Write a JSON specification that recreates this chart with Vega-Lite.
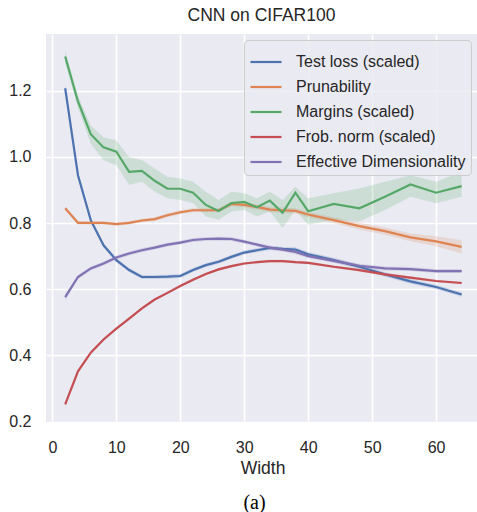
{
  "$schema": "https://vega.github.io/schema/vega-lite/v6.json",
  "width": 431,
  "height": 389,
  "autosize": {"type": "none"},
  "padding": {"left": 46, "top": 34, "right": 0, "bottom": 89},
  "background": "white",
  "title": {"text": "CNN on CIFAR100", "font": "Liberation Sans", "fontSize": 17.5, "fontWeight": "normal", "color": "#262626", "offset": 10},
  "data": {"values": [
    {"w":2,"s":"Test loss (scaled)","v":1.208,"lo":1.198,"hi":1.218},
    {"w":4,"s":"Test loss (scaled)","v":0.945,"lo":0.937,"hi":0.953},
    {"w":6,"s":"Test loss (scaled)","v":0.809,"lo":0.802,"hi":0.816},
    {"w":8,"s":"Test loss (scaled)","v":0.733,"lo":0.727,"hi":0.739},
    {"w":10,"s":"Test loss (scaled)","v":0.688,"lo":0.682,"hi":0.694},
    {"w":12,"s":"Test loss (scaled)","v":0.658,"lo":0.652,"hi":0.664},
    {"w":14,"s":"Test loss (scaled)","v":0.637,"lo":0.631,"hi":0.643},
    {"w":16,"s":"Test loss (scaled)","v":0.637,"lo":0.631,"hi":0.643},
    {"w":18,"s":"Test loss (scaled)","v":0.638,"lo":0.632,"hi":0.644},
    {"w":20,"s":"Test loss (scaled)","v":0.640,"lo":0.634,"hi":0.646},
    {"w":22,"s":"Test loss (scaled)","v":0.658,"lo":0.652,"hi":0.664},
    {"w":24,"s":"Test loss (scaled)","v":0.673,"lo":0.667,"hi":0.679},
    {"w":26,"s":"Test loss (scaled)","v":0.683,"lo":0.677,"hi":0.689},
    {"w":28,"s":"Test loss (scaled)","v":0.698,"lo":0.692,"hi":0.704},
    {"w":30,"s":"Test loss (scaled)","v":0.711,"lo":0.705,"hi":0.717},
    {"w":32,"s":"Test loss (scaled)","v":0.718,"lo":0.712,"hi":0.724},
    {"w":34,"s":"Test loss (scaled)","v":0.725,"lo":0.719,"hi":0.731},
    {"w":36,"s":"Test loss (scaled)","v":0.722,"lo":0.716,"hi":0.728},
    {"w":38,"s":"Test loss (scaled)","v":0.720,"lo":0.713,"hi":0.727},
    {"w":40,"s":"Test loss (scaled)","v":0.706,"lo":0.699,"hi":0.713},
    {"w":44,"s":"Test loss (scaled)","v":0.688,"lo":0.681,"hi":0.695},
    {"w":48,"s":"Test loss (scaled)","v":0.668,"lo":0.661,"hi":0.675},
    {"w":52,"s":"Test loss (scaled)","v":0.645,"lo":0.638,"hi":0.652},
    {"w":56,"s":"Test loss (scaled)","v":0.624,"lo":0.617,"hi":0.631},
    {"w":60,"s":"Test loss (scaled)","v":0.607,"lo":0.600,"hi":0.614},
    {"w":64,"s":"Test loss (scaled)","v":0.584,"lo":0.577,"hi":0.591},

    {"w":2,"s":"Prunability","v":0.845,"lo":0.839,"hi":0.851},
    {"w":4,"s":"Prunability","v":0.801,"lo":0.796,"hi":0.806},
    {"w":6,"s":"Prunability","v":0.801,"lo":0.796,"hi":0.806},
    {"w":8,"s":"Prunability","v":0.801,"lo":0.796,"hi":0.806},
    {"w":10,"s":"Prunability","v":0.797,"lo":0.792,"hi":0.802},
    {"w":12,"s":"Prunability","v":0.801,"lo":0.796,"hi":0.806},
    {"w":14,"s":"Prunability","v":0.808,"lo":0.803,"hi":0.813},
    {"w":16,"s":"Prunability","v":0.812,"lo":0.806,"hi":0.818},
    {"w":18,"s":"Prunability","v":0.824,"lo":0.818,"hi":0.830},
    {"w":20,"s":"Prunability","v":0.833,"lo":0.827,"hi":0.839},
    {"w":22,"s":"Prunability","v":0.839,"lo":0.833,"hi":0.845},
    {"w":24,"s":"Prunability","v":0.839,"lo":0.833,"hi":0.845},
    {"w":26,"s":"Prunability","v":0.839,"lo":0.833,"hi":0.845},
    {"w":28,"s":"Prunability","v":0.858,"lo":0.851,"hi":0.865},
    {"w":30,"s":"Prunability","v":0.855,"lo":0.848,"hi":0.862},
    {"w":32,"s":"Prunability","v":0.849,"lo":0.841,"hi":0.857},
    {"w":34,"s":"Prunability","v":0.841,"lo":0.833,"hi":0.849},
    {"w":36,"s":"Prunability","v":0.839,"lo":0.831,"hi":0.847},
    {"w":38,"s":"Prunability","v":0.837,"lo":0.829,"hi":0.845},
    {"w":40,"s":"Prunability","v":0.826,"lo":0.818,"hi":0.834},
    {"w":44,"s":"Prunability","v":0.809,"lo":0.800,"hi":0.818},
    {"w":48,"s":"Prunability","v":0.791,"lo":0.781,"hi":0.801},
    {"w":52,"s":"Prunability","v":0.776,"lo":0.765,"hi":0.787},
    {"w":56,"s":"Prunability","v":0.757,"lo":0.745,"hi":0.769},
    {"w":60,"s":"Prunability","v":0.745,"lo":0.730,"hi":0.760},
    {"w":64,"s":"Prunability","v":0.728,"lo":0.708,"hi":0.748},

    {"w":2,"s":"Margins (scaled)","v":1.304,"lo":1.285,"hi":1.322},
    {"w":4,"s":"Margins (scaled)","v":1.168,"lo":1.150,"hi":1.185},
    {"w":6,"s":"Margins (scaled)","v":1.069,"lo":1.040,"hi":1.095},
    {"w":8,"s":"Margins (scaled)","v":1.029,"lo":0.990,"hi":1.060},
    {"w":10,"s":"Margins (scaled)","v":1.016,"lo":0.975,"hi":1.050},
    {"w":12,"s":"Margins (scaled)","v":0.955,"lo":0.915,"hi":1.000},
    {"w":14,"s":"Margins (scaled)","v":0.958,"lo":0.925,"hi":0.990},
    {"w":16,"s":"Margins (scaled)","v":0.928,"lo":0.895,"hi":0.965},
    {"w":18,"s":"Margins (scaled)","v":0.904,"lo":0.875,"hi":0.940},
    {"w":20,"s":"Margins (scaled)","v":0.904,"lo":0.870,"hi":0.935},
    {"w":22,"s":"Margins (scaled)","v":0.892,"lo":0.860,"hi":0.925},
    {"w":24,"s":"Margins (scaled)","v":0.855,"lo":0.820,"hi":0.895},
    {"w":26,"s":"Margins (scaled)","v":0.837,"lo":0.810,"hi":0.870},
    {"w":28,"s":"Margins (scaled)","v":0.861,"lo":0.835,"hi":0.895},
    {"w":30,"s":"Margins (scaled)","v":0.864,"lo":0.840,"hi":0.890},
    {"w":32,"s":"Margins (scaled)","v":0.848,"lo":0.820,"hi":0.875},
    {"w":34,"s":"Margins (scaled)","v":0.868,"lo":0.835,"hi":0.895},
    {"w":36,"s":"Margins (scaled)","v":0.831,"lo":0.785,"hi":0.870},
    {"w":38,"s":"Margins (scaled)","v":0.892,"lo":0.840,"hi":0.910},
    {"w":40,"s":"Margins (scaled)","v":0.836,"lo":0.795,"hi":0.875},
    {"w":44,"s":"Margins (scaled)","v":0.858,"lo":0.810,"hi":0.890},
    {"w":48,"s":"Margins (scaled)","v":0.845,"lo":0.805,"hi":0.905},
    {"w":52,"s":"Margins (scaled)","v":0.880,"lo":0.840,"hi":0.925},
    {"w":56,"s":"Margins (scaled)","v":0.917,"lo":0.880,"hi":0.945},
    {"w":60,"s":"Margins (scaled)","v":0.892,"lo":0.860,"hi":0.925},
    {"w":64,"s":"Margins (scaled)","v":0.912,"lo":0.880,"hi":0.955},

    {"w":2,"s":"Frob. norm (scaled)","v":0.252,"lo":0.247,"hi":0.257},
    {"w":4,"s":"Frob. norm (scaled)","v":0.352,"lo":0.348,"hi":0.356},
    {"w":6,"s":"Frob. norm (scaled)","v":0.408,"lo":0.404,"hi":0.412},
    {"w":8,"s":"Frob. norm (scaled)","v":0.448,"lo":0.444,"hi":0.452},
    {"w":10,"s":"Frob. norm (scaled)","v":0.481,"lo":0.477,"hi":0.485},
    {"w":12,"s":"Frob. norm (scaled)","v":0.511,"lo":0.507,"hi":0.515},
    {"w":14,"s":"Frob. norm (scaled)","v":0.542,"lo":0.538,"hi":0.546},
    {"w":16,"s":"Frob. norm (scaled)","v":0.569,"lo":0.565,"hi":0.573},
    {"w":18,"s":"Frob. norm (scaled)","v":0.589,"lo":0.585,"hi":0.593},
    {"w":20,"s":"Frob. norm (scaled)","v":0.610,"lo":0.606,"hi":0.614},
    {"w":22,"s":"Frob. norm (scaled)","v":0.629,"lo":0.625,"hi":0.633},
    {"w":24,"s":"Frob. norm (scaled)","v":0.646,"lo":0.642,"hi":0.650},
    {"w":26,"s":"Frob. norm (scaled)","v":0.660,"lo":0.656,"hi":0.664},
    {"w":28,"s":"Frob. norm (scaled)","v":0.670,"lo":0.666,"hi":0.674},
    {"w":30,"s":"Frob. norm (scaled)","v":0.678,"lo":0.674,"hi":0.682},
    {"w":32,"s":"Frob. norm (scaled)","v":0.682,"lo":0.678,"hi":0.686},
    {"w":34,"s":"Frob. norm (scaled)","v":0.685,"lo":0.681,"hi":0.689},
    {"w":36,"s":"Frob. norm (scaled)","v":0.685,"lo":0.681,"hi":0.689},
    {"w":38,"s":"Frob. norm (scaled)","v":0.682,"lo":0.678,"hi":0.686},
    {"w":40,"s":"Frob. norm (scaled)","v":0.680,"lo":0.676,"hi":0.684},
    {"w":44,"s":"Frob. norm (scaled)","v":0.668,"lo":0.664,"hi":0.672},
    {"w":48,"s":"Frob. norm (scaled)","v":0.658,"lo":0.654,"hi":0.662},
    {"w":52,"s":"Frob. norm (scaled)","v":0.645,"lo":0.641,"hi":0.649},
    {"w":56,"s":"Frob. norm (scaled)","v":0.635,"lo":0.631,"hi":0.639},
    {"w":60,"s":"Frob. norm (scaled)","v":0.625,"lo":0.621,"hi":0.629},
    {"w":64,"s":"Frob. norm (scaled)","v":0.619,"lo":0.615,"hi":0.623},

    {"w":2,"s":"Effective Dimensionality","v":0.576,"lo":0.566,"hi":0.586},
    {"w":4,"s":"Effective Dimensionality","v":0.637,"lo":0.631,"hi":0.643},
    {"w":6,"s":"Effective Dimensionality","v":0.663,"lo":0.657,"hi":0.669},
    {"w":8,"s":"Effective Dimensionality","v":0.678,"lo":0.672,"hi":0.684},
    {"w":10,"s":"Effective Dimensionality","v":0.696,"lo":0.690,"hi":0.702},
    {"w":12,"s":"Effective Dimensionality","v":0.708,"lo":0.702,"hi":0.714},
    {"w":14,"s":"Effective Dimensionality","v":0.718,"lo":0.712,"hi":0.724},
    {"w":16,"s":"Effective Dimensionality","v":0.726,"lo":0.720,"hi":0.732},
    {"w":18,"s":"Effective Dimensionality","v":0.735,"lo":0.729,"hi":0.741},
    {"w":20,"s":"Effective Dimensionality","v":0.741,"lo":0.735,"hi":0.747},
    {"w":22,"s":"Effective Dimensionality","v":0.749,"lo":0.743,"hi":0.755},
    {"w":24,"s":"Effective Dimensionality","v":0.752,"lo":0.746,"hi":0.758},
    {"w":26,"s":"Effective Dimensionality","v":0.753,"lo":0.747,"hi":0.759},
    {"w":28,"s":"Effective Dimensionality","v":0.752,"lo":0.746,"hi":0.758},
    {"w":30,"s":"Effective Dimensionality","v":0.744,"lo":0.738,"hi":0.750},
    {"w":32,"s":"Effective Dimensionality","v":0.735,"lo":0.729,"hi":0.741},
    {"w":34,"s":"Effective Dimensionality","v":0.726,"lo":0.720,"hi":0.732},
    {"w":36,"s":"Effective Dimensionality","v":0.720,"lo":0.714,"hi":0.726},
    {"w":38,"s":"Effective Dimensionality","v":0.713,"lo":0.707,"hi":0.719},
    {"w":40,"s":"Effective Dimensionality","v":0.700,"lo":0.694,"hi":0.706},
    {"w":44,"s":"Effective Dimensionality","v":0.686,"lo":0.680,"hi":0.692},
    {"w":48,"s":"Effective Dimensionality","v":0.671,"lo":0.665,"hi":0.677},
    {"w":52,"s":"Effective Dimensionality","v":0.663,"lo":0.657,"hi":0.669},
    {"w":56,"s":"Effective Dimensionality","v":0.661,"lo":0.655,"hi":0.667},
    {"w":60,"s":"Effective Dimensionality","v":0.655,"lo":0.649,"hi":0.661},
    {"w":64,"s":"Effective Dimensionality","v":0.655,"lo":0.649,"hi":0.661}
  ]},
  "layer": [
    {
      "mark": {"type": "area", "fillOpacity": 0.2, "interpolate": "linear"},
      "encoding": {
        "x": {"field": "w", "type": "quantitative",
              "scale": {"domain": [-1.0, 66.4], "nice": false, "zero": false},
              "axis": {"orient": "bottom", "title": "Width", "values": [0, 10, 20, 30, 40, 50, 60], "labelPadding": 16, "titleX": 216.5, "titleY": 50, "titleBaseline": "alphabetic", "grid": true}},
        "y": {"field": "lo", "type": "quantitative",
              "scale": {"domain": [0.1955, 1.372], "nice": false, "zero": false},
              "axis": {"title": null, "values": [0.2, 0.4, 0.6, 0.8, 1.0, 1.2], "format": ".1f", "labelPadding": 15, "grid": true}},
        "y2": {"field": "hi"},
        "color": {"field": "s", "type": "nominal",
                  "scale": {"domain": ["Test loss (scaled)", "Prunability", "Margins (scaled)", "Frob. norm (scaled)", "Effective Dimensionality"],
                            "range": ["#4C72B0", "#DD8452", "#55A868", "#C44E52", "#8172B3"]}}
      }
    },
    {
      "mark": {"type": "line", "strokeWidth": 2.2, "interpolate": "linear"},
      "encoding": {
        "x": {"field": "w", "type": "quantitative",
              "axis": {"orient": "bottom", "title": "(a)", "labels": false, "grid": false, "titleFont": "Liberation Serif", "titleFontSize": 20, "titleColor": "#000000", "titleX": 208, "titleY": 85, "titleBaseline": "alphabetic"}},
        "y": {"field": "v", "type": "quantitative"},
        "color": {"field": "s", "type": "nominal",
                  "legend": {"title": null, "orient": "top-right", "offset": 6,
                             "symbolType": "stroke", "symbolSize": 960, "symbolStrokeWidth": 2.2, "symbolOpacity": 1,
                             "labelFont": "Liberation Sans", "labelFontSize": 16, "labelColor": "#262626",
                             "labelOffset": 13, "labelLimit": 400, "rowPadding": -2,
                             "fillColor": "rgba(234,234,242,0.8)", "strokeColor": "#cccccc", "cornerRadius": 4, "padding": 5}}
      }
    }
  ],
  "resolve": {"axis": {"x": "independent"}},
  "config": {
    "view": {"fill": "#EAEAF2", "stroke": null},
    "axis": {"domain": false, "ticks": false, "gridColor": "#ffffff", "gridWidth": 1.6,
             "labelFont": "Liberation Sans", "labelFontSize": 16, "labelColor": "#262626",
             "titleFont": "Liberation Sans", "titleFontSize": 17.5, "titleColor": "#262626", "titleFontWeight": "normal"}
  }
}
